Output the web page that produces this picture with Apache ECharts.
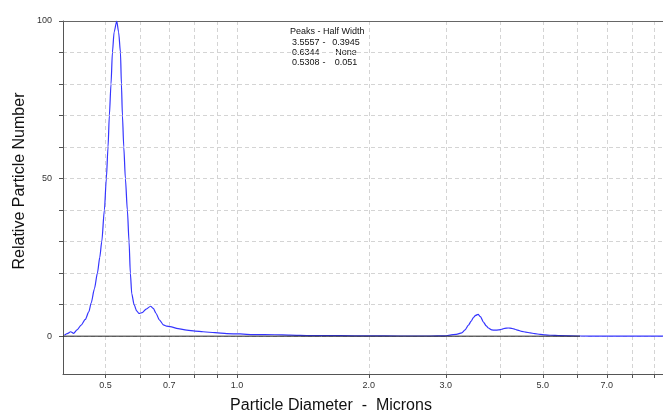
<!DOCTYPE html>
<html>
<head>
<meta charset="utf-8">
<script src="https://cdn.jsdelivr.net/npm/echarts@6/dist/echarts.min.js"></script>
<style>
  html, body { margin: 0; padding: 0; background: #fff; }
  #main { width: 663px; height: 415px; }
</style>
</head>
<body>
<div id="main"></div>
<script>
// particle size distribution (diameter in microns, relative number)
const diameters = [
  0.403, 0.409, 0.4165, 0.423, 0.4307, 0.4401, 0.4497, 0.4582, 0.4639, 0.4719,
  0.4794, 0.4854, 0.4905, 0.4973, 0.5025, 0.507, 0.5105, 0.515, 0.5188, 0.5235,
  0.5308, 0.536, 0.5413, 0.544, 0.5469, 0.5508, 0.5555, 0.5613, 0.5663, 0.5702,
  0.5744, 0.5815, 0.5895, 0.597, 0.6066, 0.6196, 0.6344, 0.6436, 0.653, 0.664,
  0.6785, 0.69, 0.7029, 0.733, 0.767, 0.802, 0.836, 0.89, 0.947, 1.016,
  1.088, 1.22, 1.32, 1.47, 1.72, 2.01, 2.36, 2.76, 2.99, 3.068,
  3.17, 3.263, 3.32, 3.379, 3.43, 3.469, 3.51, 3.5557, 3.60, 3.656,
  3.71, 3.753, 3.82, 3.888, 3.96, 4.027, 4.09, 4.17, 4.24, 4.32,
  4.38, 4.474, 4.57, 4.675, 4.79, 4.927, 5.06, 5.193, 5.474, 6.08,
  6.75, 7.92, 9.41
];
const counts = [
  0.3, 0.8, 1.4, 0.9, 2.0, 3.5, 5.3, 7.7, 10.5, 15,
  20, 25, 30, 40, 50, 60, 70, 80, 90, 96.5,
  100, 96.5, 90, 80, 70, 60, 50, 40, 30, 20,
  13.5, 10, 8, 7.2, 7.5, 8.6, 9.5, 8.8, 7.2, 5.2,
  3.6, 3.2, 3.0, 2.4, 1.9, 1.6, 1.4, 1.1, 0.8, 0.7,
  0.5, 0.45, 0.35, 0.2, 0.15, 0.1, 0.05, 0.05, 0.1, 0.35,
  0.6, 1.05, 2.0, 3.5, 4.8, 5.9, 6.6, 6.9, 6.2, 4.5,
  3.3, 2.6, 2.0, 1.9, 2.0, 2.2, 2.5, 2.6, 2.5, 2.2,
  1.9, 1.5, 1.3, 1.05, 0.8, 0.6, 0.4, 0.3, 0.15, 0.05,
  0, 0, 0
];
const baselineRange = [0.4, 6.08];

const xTicks = [0.5, 0.6, 0.7, 0.8, 0.9, 1, 2, 3, 4, 5, 6, 7, 8, 9];
const xLabels = [0.5, 0.7, 1, 2, 3, 5, 7];
const yTicks = [0, 10, 20, 30, 40, 50, 60, 70, 80, 90, 100];
const yLabels = [0, 50, 100];

const peaks = ['3.5557', '0.6344', '0.5308'];
const halfWidths = ['0.3945', 'None', '0.051'];

const FONT = '"Liberation Sans", Arial, sans-serif';

const chart = echarts.init(document.getElementById('main'));

// peak table text
const tableGraphics = [{
  type: 'text', x: 290, y: 32,
  style: { text: 'Peaks - Half Width', font: '9px ' + FONT, fill: '#111', textVerticalAlign: 'middle' }
}];
peaks.forEach((p, i) => {
  const y = 42.5 + i * 9.8;
  tableGraphics.push(
    { type: 'text', x: 292, y: y, style: { text: p, font: '9px ' + FONT, fill: '#111', textVerticalAlign: 'middle' } },
    { type: 'text', x: 324, y: y, style: { text: '-', font: '9px ' + FONT, fill: '#111', textAlign: 'center', textVerticalAlign: 'middle' } },
    { type: 'text', x: 346, y: y, style: { text: halfWidths[i], font: '9px ' + FONT, fill: '#111', textAlign: 'center', textVerticalAlign: 'middle' } }
  );
});

const splitStyle = { color: '#d4d4d4', type: [4, 3], width: 1 };

const option = {
  animation: false,
  backgroundColor: '#fff',
  grid: { left: 63, right: 0, top: 21, bottom: 41 },
  xAxis: [
    {
      type: 'log',
      logBase: 10,
      min: 0.4,
      max: 9.41,
      axisLine: { onZero: false, lineStyle: { color: '#555', width: 1 } },
      axisTick: { length: 4, lineStyle: { color: '#555' }, customValues: xTicks },
      axisLabel: {
        customValues: xLabels, margin: 7, fontSize: 9, color: '#333', fontFamily: FONT,
        formatter: v => Number(v).toFixed(1)
      },
      splitLine: { show: true, lineStyle: splitStyle }
    },
    {
      // top frame line only
      type: 'log',
      position: 'top',
      min: 0.4,
      max: 9.41,
      axisLine: { show: true, onZero: false, lineStyle: { color: '#666', width: 1 } },
      axisTick: { show: false },
      axisLabel: { show: false },
      splitLine: { show: false }
    }
  ],
  yAxis: {
    type: 'value',
    min: -12,
    max: 100,
    axisLine: { show: true, onZero: false, lineStyle: { color: '#555', width: 1 } },
    axisTick: { show: true, length: 4, lineStyle: { color: '#555' }, customValues: yTicks },
    axisLabel: { customValues: yLabels, margin: 11, fontSize: 9, color: '#333', fontFamily: FONT },
    splitLine: { show: true, lineStyle: splitStyle }
  },
  graphic: [
    {
      type: 'text', x: 331, y: 406,
      style: { text: 'Particle Diameter  -  Microns', font: '16px ' + FONT, fill: '#111', textAlign: 'center', textVerticalAlign: 'middle' }
    },
    {
      type: 'text', x: 20, y: 181, rotation: Math.PI / 2,
      style: { text: 'Relative Particle Number', font: '16px ' + FONT, fill: '#111', textAlign: 'center', textVerticalAlign: 'middle' }
    }
  ].concat(tableGraphics),
  series: [
    {
      type: 'line',
      data: diameters.map((d, i) => [d, counts[i]]),
      showSymbol: false,
      smooth: 0.25,
      smoothMonotone: 'x',
      lineStyle: { color: '#3535ff', width: 1.2 },
      z: 2
    },
    {
      type: 'line',
      data: baselineRange.map(d => [d, 0]),
      showSymbol: false,
      lineStyle: { color: '#222', width: 1 },
      z: 3
    }
  ]
};

chart.setOption(option);
</script>
</body>
</html>
